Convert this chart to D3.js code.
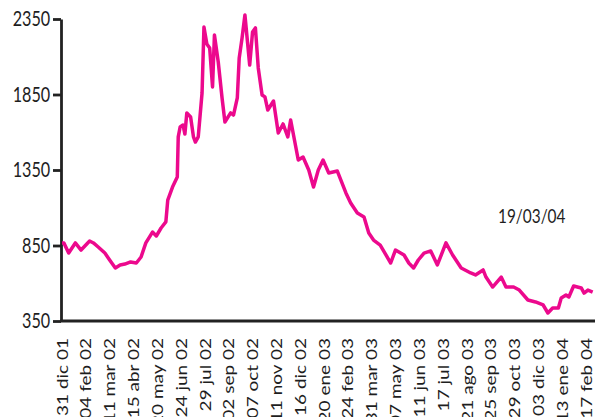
<!DOCTYPE html>
<html lang="es">
  <head>
    <meta charset="utf-8">
    <title>Cotización</title>
    <script src="https://cdn.jsdelivr.net/npm/d3@7"></script>
    <style>
      body { margin:0; background:#fff; }
      svg { display:block; }
      .axis text { font-family: Lato, "Open Sans", sans-serif; fill:#1e1e1e; }
      .axis path, .axis line { stroke:#222; }
    </style>
  </head>
  <body>
    <svg></svg>
    <script>
    // data (trading day since 31 dic 01, price)
    var tradeDay = [0,2,7,14,20,29,33,38,45,50,56,61,66,72,78,83,88,95,99,104,109,111,116,121,122,124,127,129,131,135,138,140,143,147,149,152,155,158,160,164,168,171,177,180,184,186,189,192,195,197,200,203,206,210,213,216,222,227,232,237,240,248,253,259,264,269,274,280,289,298,303,310,317,322,327,334,345,350,359,364,369,374,380,387,394,403,410,419,429,434,442,445,452,461,466,474,480,489,497,505,510,515,521,524,529,532,537,545,548,552,557];
    var price = [867,867,800,867,820,880,867,840,800,754,701,721,727,741,734,774,867,939,913,966,1006,1151,1237,1304,1569,1635,1648,1588,1728,1701,1569,1535,1569,1860,2297,2185,2158,1900,2244,2065,1827,1668,1728,1714,1827,2092,2224,2377,2178,2045,2264,2291,2026,1847,1834,1747,1807,1595,1655,1569,1681,1416,1436,1350,1237,1350,1416,1330,1343,1198,1131,1065,1039,933,886,853,734,820,787,734,701,754,800,814,721,867,787,701,668,655,688,641,575,641,575,575,555,489,476,456,403,436,436,502,522,509,582,569,535,555,542];
    var xLabels = ["31 dic 01","04 feb 02","11 mar 02","15 abr 02","20 may 02","24 jun 02","29 jul 02","02 sep 02","07 oct 02","11 nov 02","16 dic 02","20 ene 03","24 feb 03","31 mar 03","07 may 03","11 jun 03","17 jul 03","21 ago 03","25 sep 03","29 oct 03","03 dic 03","13 ene 04","17 feb 04"];
    var yTicks = [350, 850, 1350, 1850, 2350];
    var stamp = "19/03/04";

    var width = 604, height = 417;
    var squish = 0.77;

    var svg = d3.select("svg").attr("width", width).attr("height", height);

    var x = d3.scaleLinear().domain([0, 550]).range([62, 586]);
    var y = d3.scaleLinear().domain([350, 2350]).range([321, 19]);

    // y axis
    var yAxis = svg.append("g")
      .attr("class", "axis")
      .attr("transform", "translate(61,0)")
      .call(d3.axisLeft(y).tickValues(yTicks).tickSize(8).tickSizeOuter(0).tickFormat(d3.format("d")));
    yAxis.select(".domain").attr("stroke-width", 2.8);
    yAxis.selectAll(".tick line").attr("stroke-width", 2.8);
    yAxis.selectAll(".tick text")
      .attr("x", -14)
      .attr("transform", "scale(" + squish + ",1)")
      .style("font-size", "21px");

    // x axis (labels only + baseline)
    var labelDays = xLabels.map(function(d, i){ return i * 25; });
    var xAxis = svg.append("g")
      .attr("class", "axis")
      .attr("transform", "translate(0,321)")
      .call(d3.axisBottom(x).tickValues(labelDays).tickSize(0)
        .tickFormat(function(d, i){ return xLabels[i]; }));
    xAxis.select(".domain").remove();
    xAxis.selectAll(".tick text")
      .attr("x", 0).attr("y", 0).attr("dy", "0.35em")
      .attr("transform", "translate(0,17) scale(" + squish + ",1) rotate(-90)")
      .style("text-anchor", "end")
      .style("font-size", "19px");
    svg.append("line")
      .attr("x1", 60).attr("x2", 595)
      .attr("y1", y(350)).attr("y2", y(350))
      .attr("stroke", "#222").attr("stroke-width", 3);

    // price line
    var pts = tradeDay.map(function(d, i){ return [d, price[i]]; });
    var line = d3.line()
      .x(function(d){ return x(d[0]); })
      .y(function(d){ return y(d[1]); });
    svg.append("path")
      .datum(pts)
      .attr("d", line)
      .attr("fill", "none")
      .attr("stroke", "#ec098d")
      .attr("stroke-width", 3.5)
      .attr("stroke-linejoin", "round");

    // date stamp
    svg.append("text")
      .attr("transform", "translate(498,223) scale(" + squish + ",1)")
      .style("font-family", "Lato, 'Open Sans', sans-serif")
      .style("font-size", "20px")
      .attr("fill", "#1e1e1e")
      .text(stamp);
    </script>
  </body>
</html>
